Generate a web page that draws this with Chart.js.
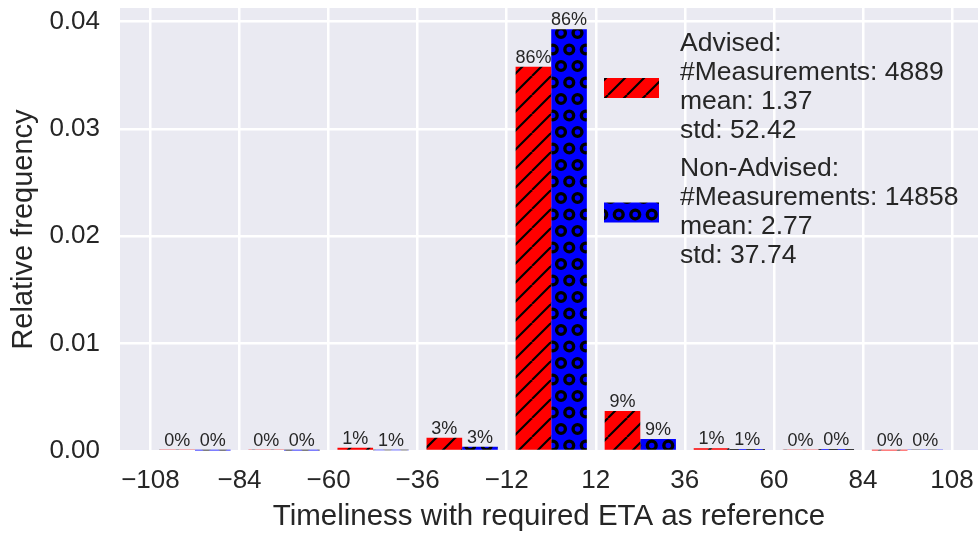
<!DOCTYPE html>
<html>
<head>
<meta charset="utf-8">
<script src="https://cdn.jsdelivr.net/npm/chart.js@4.4.1/dist/chart.umd.min.js"></script>
<style>
  html, body { margin: 0; padding: 0; background: #fff; }
</style>
</head>
<body>
<canvas id="etaChart" width="978" height="533"></canvas>
<script>
// histogram bins (centres of 24-unit bins) and density per bin
const binCenters = [-96, -72, -48, -24, 0, 24, 48, 72, 96];
const advisedDensity = [0.00013, 0.00013, 0.00031, 0.00124, 0.03578, 0.00372, 0.00025, 0.0001, 0.00005];
const nonAdvisedDensity = [0.00005, 0.00005, 0.00007, 0.0004, 0.03929, 0.00112, 0.00019, 0.00018, 0.0001];
// share labels printed over the bars
const advisedPct = [0, 0, 1, 3, 86, 9, 1, 0, 0];
const nonAdvisedPct = [0, 0, 1, 3, 86, 9, 1, 0, 0];
const xTicks = [-108, -84, -60, -36, -12, 12, 36, 60, 84, 108];
const yTicks = [0, 0.01, 0.02, 0.03, 0.04];
const advisedLegend = ['Advised:', '#Measurements: 4889', 'mean: 1.37', 'std: 52.42'];
const nonAdvisedLegend = ['Non-Advised:', '#Measurements: 14858', 'mean: 2.77', 'std: 37.74'];

const FONT = "'Liberation Sans', Arial, sans-serif";
const TEXT = '#262626';

function hatchLines(fill) {
  const s = 19;
  const c = document.createElement('canvas');
  c.width = s; c.height = s;
  const g = c.getContext('2d');
  g.fillStyle = fill;
  g.fillRect(0, 0, s, s);
  g.strokeStyle = '#000';
  g.lineWidth = 2.1;
  for (const o of [-s, 0, s]) {
    g.beginPath();
    g.moveTo(o, s);
    g.lineTo(o + s, 0);
    g.stroke();
  }
  return g.createPattern(c, 'repeat');
}

function hatchCircles(fill) {
  const s = 33, step = 16.5;
  const c = document.createElement('canvas');
  c.width = s; c.height = s;
  const g = c.getContext('2d');
  g.fillStyle = fill;
  g.fillRect(0, 0, s, s);
  g.strokeStyle = '#000';
  g.lineWidth = 3.4;
  const spots = [];
  for (const y of [0, s]) for (const x of [0, step, s]) spots.push([x, y]);
  for (const x of [step / 2, step * 1.5]) spots.push([x, step]);
  for (const [x, y] of spots) {
    g.beginPath();
    g.arc(x, y, 4.4, 0, Math.PI * 2);
    g.stroke();
  }
  return g.createPattern(c, 'repeat');
}

const redHatch = hatchLines('#ff0000');
const blueHatch = hatchCircles('#0000ff');

const plotBackground = {
  id: 'plotBackground',
  beforeDraw(chart) {
    const { ctx, chartArea: a } = chart;
    ctx.save();
    ctx.fillStyle = '#eaeaf2';
    ctx.fillRect(a.left, a.top, a.right - a.left, a.bottom - a.top);
    ctx.restore();
  }
};

const barLabels = {
  id: 'barLabels',
  afterDatasetsDraw(chart) {
    const { ctx } = chart;
    ctx.save();
    ctx.font = `18px ${FONT}`;
    ctx.fillStyle = TEXT;
    ctx.textAlign = 'center';
    ctx.textBaseline = 'alphabetic';
    chart.data.datasets.forEach((ds, i) => {
      chart.getDatasetMeta(i).data.forEach((bar, j) => {
        ctx.fillText(ds.pct[j] + '%', bar.x, bar.y - 4);
      });
    });
    ctx.restore();
  }
};

const sideLegend = {
  id: 'sideLegend',
  afterDraw(chart) {
    const { ctx } = chart;
    const blocks = [
      { lines: advisedLegend, fill: redHatch, top: 51, patchY: 78 },
      { lines: nonAdvisedLegend, fill: blueHatch, top: 175.7, patchY: 202.5 }
    ];
    ctx.save();
    ctx.font = `26.5px ${FONT}`;
    ctx.textAlign = 'left';
    ctx.textBaseline = 'alphabetic';
    blocks.forEach(b => {
      ctx.fillStyle = b.fill;
      ctx.fillRect(604, b.patchY, 55, 20);
      ctx.fillStyle = TEXT;
      b.lines.forEach((t, k) => ctx.fillText(t, 680, b.top + k * 29));
    });
    ctx.restore();
  }
};

new Chart(document.getElementById('etaChart'), {
  type: 'bar',
  data: {
    datasets: [
      {
        label: 'Advised',
        data: binCenters.map((x, i) => ({ x, y: advisedDensity[i] })),
        pct: advisedPct,
        backgroundColor: redHatch,
        borderWidth: 0,
        barPercentage: 1,
        categoryPercentage: 0.8
      },
      {
        label: 'Non-Advised',
        data: binCenters.map((x, i) => ({ x, y: nonAdvisedDensity[i] })),
        pct: nonAdvisedPct,
        backgroundColor: blueHatch,
        borderWidth: 0,
        barPercentage: 1,
        categoryPercentage: 0.8
      }
    ]
  },
  options: {
    responsive: false,
    animation: false,
    layout: { padding: { top: 8, right: 0, left: 0, bottom: 0 } },
    plugins: {
      legend: { display: false },
      tooltip: { enabled: false }
    },
    scales: {
      x: {
        type: 'linear',
        min: -116.2,
        max: 115,
        offset: false,
        afterBuildTicks: s => { s.ticks = xTicks.map(v => ({ value: v })); },
        afterFit: s => {
          s.height = 82;
          s.paddingLeft = 0;
          s.paddingRight = 0;
        },
        grid: { color: '#ffffff', lineWidth: 2.5, drawTicks: false, offset: false },
        border: { display: false },
        ticks: {
          color: TEXT,
          font: { family: FONT, size: 26 },
          padding: 14,
          maxRotation: 0,
          autoSkip: false,
          callback: v => (v < 0 ? '\u2212' + Math.abs(v) : String(v))
        },
        title: {
          display: true,
          text: 'Timeliness with required ETA as reference',
          color: TEXT,
          font: { family: FONT, size: 29.5, lineHeight: 1.1 },
          padding: 0
        }
      },
      y: {
        min: 0,
        max: 0.04126,
        afterBuildTicks: s => { s.ticks = yTicks.map(v => ({ value: v })); },
        afterFit: s => {
          s.width = 120;
          s.paddingTop = 0;
          s.paddingBottom = 0;
        },
        grid: { color: '#ffffff', lineWidth: 2.5, drawTicks: false },
        border: { display: false },
        ticks: {
          color: TEXT,
          font: { family: FONT, size: 26 },
          padding: 20,
          callback: v => v.toFixed(2)
        },
        title: {
          display: true,
          text: 'Relative frequency',
          color: TEXT,
          font: { family: FONT, size: 29, lineHeight: 1.2 },
          padding: { top: 6.6, bottom: 0 }
        }
      }
    }
  },
  plugins: [plotBackground, barLabels, sideLegend]
});
</script>
</body>
</html>
